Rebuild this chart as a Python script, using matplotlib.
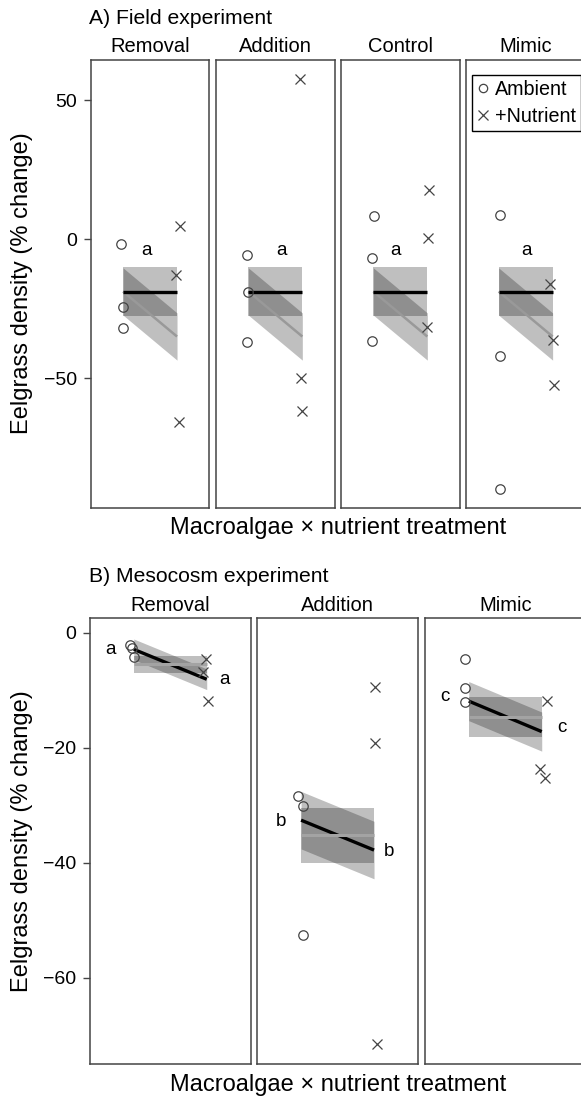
import numpy as np
import matplotlib
matplotlib.use('Agg')
import matplotlib.pyplot as plt
from matplotlib.lines import Line2D

plt.rcParams['font.family'] = ['Liberation Sans', 'DejaVu Sans']

# ---- A) field experiment (values read off the figure)
field_panels = ['Removal', 'Addition', 'Control', 'Mimic']
field_amb = [[-1.8, -24.5, -31.8], [-5.8, -19.1, -36.9], [8.5, -6.8, -36.5], [8.8, -41.9, -89.7]]
field_amb_x = [[-0.03, -0.01, -0.01], [-0.03, 0.0, -0.03], [0.01, -0.02, -0.03], [0.03, 0.02, 0.03]]
field_nut = [[4.8, -12.9, -65.7], [57.7, -50.0, -61.7], [17.8, 0.4, -31.7], [-16.2, -36.3, -52.5]]
field_nut_x = [[1.05, 0.98, 1.04], [0.95, 0.97, 1.0], [1.03, 1.02, 1.0], [0.95, 1.01, 1.03]]
field_flat = [-18.8, -18.8, -18.8, -18.8]          # mean (no nutrient effect), black
field_flat_ci = [8.7, 8.7, 8.7, 8.7]
field_slope = [(-18.8, -35.0)] * 4                 # nutrient model, grey
field_slope_ci = [8.5, 8.5, 8.5, 8.5]
field_letters = ['a', 'a', 'a', 'a']
field_letter_pos = [(0.43, -3.9), (0.61, -3.9), (0.41, -3.9), (0.51, -3.9)]

# ---- B) mesocosm experiment
meso_panels = ['Removal', 'Addition', 'Mimic']
meso_amb = [[-2.2, -2.6, -4.3], [-28.4, -30.1, -52.6], [-4.6, -9.7, -12.0]]
meso_amb_x = [[-0.05, -0.02, 0.0], [-0.045, 0.03, 0.03], [-0.05, -0.05, -0.05]]
meso_nut = [[-4.6, -6.8, -11.9], [-9.4, -19.2, -71.6], [-11.9, -23.7, -25.2]]
meso_nut_x = [[0.99, 0.95, 1.02], [1.02, 1.01, 1.04], [1.07, 0.98, 1.05]]
meso_slope = [(-2.9, -8.1), (-32.6, -37.8), (-11.9, -17.2)]   # black
meso_slope_ci = [1.8, 5.0, 3.4]
meso_flat = [-5.5, -35.2, -14.65]                               # grey
meso_flat_ci = [1.45, 4.8, 3.45]
meso_letters = ['a', 'b', 'c']
meso_letter_pos = [[(-0.32, -2.9), (1.25, -8.2)],
                   [(-0.28, -32.9), (1.2, -38.1)],
                   [(-0.33, -11.1), (1.28, -16.5)]]

W, H = 581, 1098
fig = plt.figure(figsize=(W / 100, H / 100), dpi=100)

frame_col = '#444444'
pt_col = '#444444'


def add_ax(left, top, w, h):
    return fig.add_axes([left / W, 1 - (top + h) / H, w / W, h / H])


def draw_panel(ax, amb, amb_x, nut, nut_x, flat, flat_ci, sl, sl_ci, black_flat):
    xs = np.array([0, 1])
    ax.fill_between(xs, [flat - flat_ci] * 2, [flat + flat_ci] * 2,
                    color='k', alpha=0.25, lw=0, zorder=1)
    ax.fill_between(xs, [sl[0] - sl_ci, sl[1] - sl_ci], [sl[0] + sl_ci, sl[1] + sl_ci],
                    color='k', alpha=0.25, lw=0, zorder=1)
    if black_flat:
        ax.plot(xs, sl, color='#999999', lw=1.8, zorder=2, solid_capstyle='butt')
        ax.plot(xs, [flat, flat], color='black', lw=2.4, zorder=3, solid_capstyle='butt')
    else:
        ax.plot(xs, sl, color='black', lw=2.4, zorder=2, solid_capstyle='butt')
        ax.plot(xs, [flat, flat], color='#a3a3a3', lw=2.2, zorder=3, solid_capstyle='butt')
    ax.plot(amb_x, amb, 'o', mfc='none', mec=pt_col, ms=6.8, mew=0.9, zorder=4)
    ax.plot(nut_x, nut, 'x', color=pt_col, ms=7.5, mew=0.9, zorder=4)
    ax.set_xlim(-0.6, 1.6)
    ax.set_xticks([])
    for s in ax.spines.values():
        s.set_color(frame_col)
        s.set_linewidth(1.1)
    ax.tick_params(axis='y', direction='out', length=5.3, width=1, color=frame_col,
                   labelsize=14, pad=4.5)


def strip(ax, name):
    ax.annotate(name, xy=(0.5, 1), xycoords='axes fraction', xytext=(0, 9.3),
                textcoords='offset points', ha='center', va='center', fontsize=14.5)


# top row
top_lefts = [90.7, 216, 341, 466.3]
for i, name in enumerate(field_panels):
    ax = add_ax(top_lefts[i], 59.5, 118.7, 448.2)
    draw_panel(ax, field_amb[i], field_amb_x[i], field_nut[i], field_nut_x[i],
               field_flat[i], field_flat_ci[i], field_slope[i], field_slope_ci[i], True)
    ax.set_ylim(-96.6, 64.7)
    ax.set_yticks([50, 0, -50])
    ax.set_yticklabels(['50', '0', '\u221250'])
    if i > 0:
        ax.tick_params(axis='y', left=False, labelleft=False)
    lx, ly = field_letter_pos[i]
    ax.text(lx, ly, field_letters[i], ha='center', va='center', fontsize=13.5)
    strip(ax, name)
    if name == 'Mimic':
        handles = [Line2D([], [], marker='o', ls='none', mfc='none', mec=pt_col, ms=6, mew=0.9),
                   Line2D([], [], marker='x', ls='none', color=pt_col, ms=7, mew=0.9)]
        leg = ax.legend(handles, ['Ambient', '+Nutrient'], loc='upper left',
                        bbox_to_anchor=(0.048, 0.965), borderaxespad=0, fancybox=False,
                        framealpha=1, edgecolor='black', fontsize=14.2, handlelength=0.6,
                        handletextpad=0.3, borderpad=0.25, labelspacing=0.4)
        leg.get_frame().set_linewidth(1.0)

# bottom row
bot_lefts = [90, 257.3, 425]
for i, name in enumerate(meso_panels):
    ax = add_ax(bot_lefts[i], 618.3, 160.5, 445.7)
    draw_panel(ax, meso_amb[i], meso_amb_x[i], meso_nut[i], meso_nut_x[i],
               meso_flat[i], meso_flat_ci[i], meso_slope[i], meso_slope_ci[i], False)
    ax.set_ylim(-75, 2.5)
    ax.set_yticks([0, -20, -40, -60])
    ax.set_yticklabels(['0', '\u221220', '\u221240', '\u221260'])
    if i > 0:
        ax.tick_params(axis='y', left=False, labelleft=False)
    for (lx, ly) in meso_letter_pos[i]:
        ax.text(lx, ly, meso_letters[i], ha='center', va='center', fontsize=13.5)
    strip(ax, name)

# labels
fig.text(89 / W, 1 - 19 / H, 'A) Field experiment', ha='left', va='center', fontsize=15.2)
fig.text(89 / W, 1 - 577 / H, 'B) Mesocosm experiment', ha='left', va='center', fontsize=15.2)
fig.text(338 / W, 1 - 528 / H, 'Macroalgae \u00d7 nutrient treatment', ha='center', va='center', fontsize=17)
fig.text(338 / W, 1 - 1085 / H, 'Macroalgae \u00d7 nutrient treatment', ha='center', va='center', fontsize=17)
fig.text(22 / W, 1 - 283.6 / H, 'Eelgrass density (% change)', rotation=90,
         ha='center', va='center', fontsize=17)
fig.text(22 / W, 1 - 841 / H, 'Eelgrass density (% change)', rotation=90,
         ha='center', va='center', fontsize=17)

fig.savefig('out.png', dpi=100)
